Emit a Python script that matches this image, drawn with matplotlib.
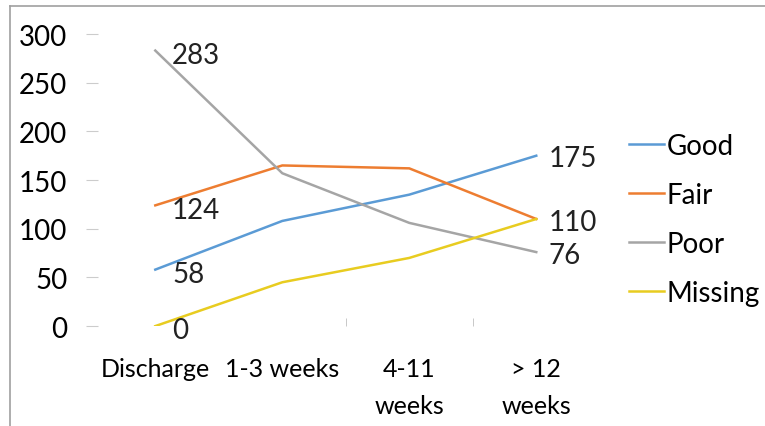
import matplotlib.pyplot as plt
from matplotlib.lines import Line2D

plt.rcParams['font.family'] = ['Lato', 'DejaVu Sans']

# data
categories = ['Discharge', '1-3 weeks', '4-11\nweeks', '> 12\nweeks']
good = [58, 108, 135, 175]
fair = [124, 165, 162, 110]
poor = [283, 157, 106, 76]
missing = [0, 45, 70, 110]
series_names = ['Good', 'Fair', 'Poor', 'Missing']
colors = ['#5B9BD5', '#ED7D31', '#A5A5A5', '#E8CC20']

FS = 20

fig = plt.figure(figsize=(7.65, 4.27), dpi=100)
ax = fig.add_axes([0.120, 0.234, 0.664, 0.684])

x = list(range(len(categories)))
for vals, name, c in zip([good, fair, poor, missing], series_names, colors):
    ax.plot(x, vals, color=c, lw=1.8, label=name)

# value labels at first and last point
for vals in [good, fair, poor, missing]:
    ax.annotate(f'{vals[0]}', (0, vals[0]), xytext=(12, -3), textcoords='offset points',
                ha='left', va='center', fontsize=FS, color='#222222')
for vals in [good, fair, poor]:
    ax.annotate(f'{vals[-1]}', (3, vals[-1]), xytext=(9, -2), textcoords='offset points',
                ha='left', va='center', fontsize=FS, color='#222222')

ax.set_xlim(-0.5, 3.5)
ax.set_ylim(0, 300)
ax.set_yticks(range(0, 301, 50))
ax.set_xticks(x)
ax.set_xticklabels(categories, linespacing=1.75)
ax.set_xticks([1.5, 2.5], minor=True)
ax.tick_params(axis='x', which='major', length=0, labelsize=18, pad=22)
ax.tick_params(axis='x', which='minor', length=6, color='#BFBFBF', direction='in')
ax.tick_params(axis='y', length=9, color='#CCCCCC', labelsize=FS, pad=13, direction='inout')
for s in ax.spines.values():
    s.set_visible(False)

handles = [Line2D([0], [0], color=c, lw=1.8) for c in colors]
fig.legend(handles, series_names, loc='center left', bbox_to_anchor=(0.808, 0.484),
           frameon=False, fontsize=FS, handlelength=1.25, handletextpad=0.1,
           labelspacing=0.83, borderaxespad=0)

# chart border (left and top)
fig.add_artist(Line2D([0.013, 0.013], [0, 0.984], color='#A0A0A0', lw=1.2))
fig.add_artist(Line2D([0.013, 1.0], [0.984, 0.984], color='#A0A0A0', lw=1.2))

fig.savefig('out.png', dpi=100)
plt.close()
